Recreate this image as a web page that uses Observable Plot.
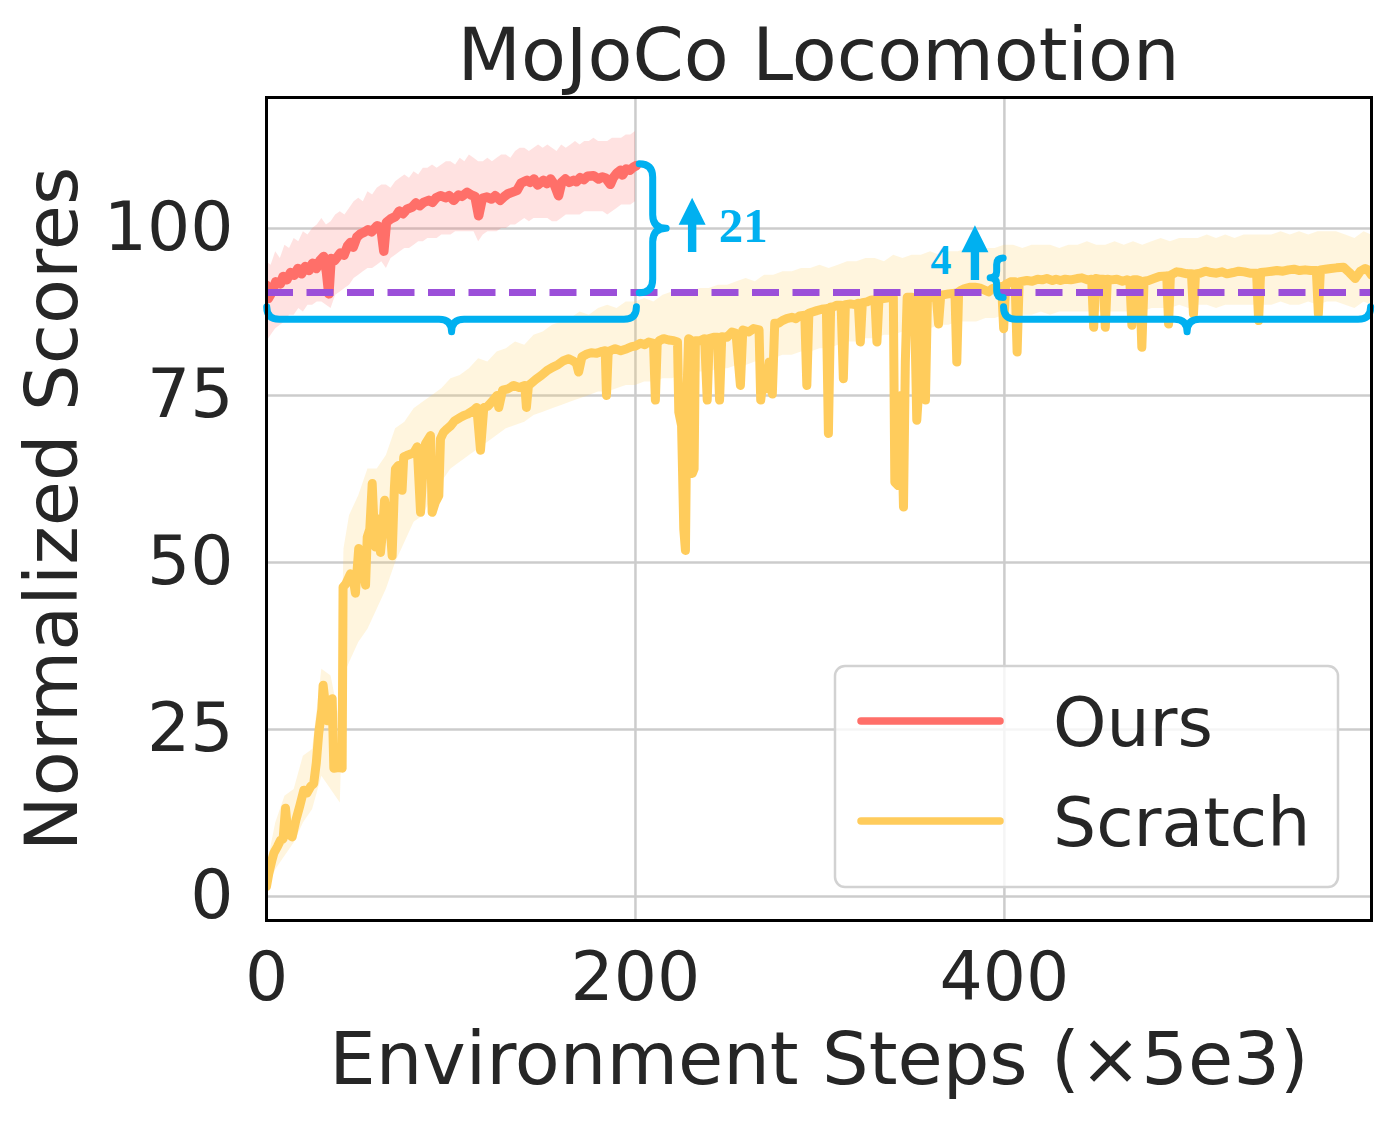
<!DOCTYPE html>
<html>
<head>
<meta charset="utf-8">
<script src="https://cdn.jsdelivr.net/npm/d3@7"></script>
<script src="https://cdn.jsdelivr.net/npm/@observablehq/plot@0.6"></script>
<style>
  html, body { margin: 0; padding: 0; background: #fff; }
  #title { position: relative; width: 1394px; height: 90px; font-family: "DejaVu Sans", sans-serif; color: #262626; }
  #title span { position: absolute; left: 266px; width: 1105px; top: 18px; text-align: center; font-size: 73.5px; line-height: 73.5px; white-space: nowrap; }
  #chart svg { display: block; }
</style>
</head>
<body>
<div id="title"><span>MoJoCo Locomotion</span></div>
<div id="chart"></div>
<script>
// ---------------- data ----------------
const seriesNames = ["Ours", "Scratch"];
const seriesColors = ["#FF6F69", "#FFCC5C"];
const xTicks = [0, 200, 400];
const yTicks = [0, 25, 50, 75, 100];
const baselineScore = 90.4;

// Ours: [step, mean score]
const oursCurve = [[0,91.5],[1,89.5],[3,90.5],[5,92],[7.5,91.7],[9,92.8],[11,92.3],[13,93.4],[15,93],[17,94],[19,93.2],[21,94.3],[23,93.7],[25,94.8],[27,94],[29,95.2],[31,95.8],[32.5,93.5],[33.8,90.2],[35,95.5],[37,95.2],[40,96.3],[42,96],[44,97.4],[45.5,97.9],[47,97.2],[49,98.7],[51,99.2],[52.7,99.4],[55,99.8],[57,99.5],[60,100.4],[62,100.1],[63.6,96.6],[65,100.9],[67.2,101.4],[70,101.8],[72,102.6],[74,102.2],[76.2,102.9],[79,103.2],[81,103.8],[83,103.4],[85.2,103.9],[88,104.2],[90,103.9],[92,104.6],[94.3,104.9],[97,104.6],[99,104.9],[101.5,104.2],[104,105],[106,104.8],[108.8,105.4],[111,105],[113,104.8],[115,101.9],[117,104.5],[119.5,104.7],[122,104.4],[124,104.9],[126.7,104.2],[129,104.8],[131,105.2],[133,105.4],[135.8,105.7],[138,106.8],[141.2,107.2],[143,106.9],[145,107.4],[147,106.5],[150.2,107.2],[152,106.7],[154,107.4],[156,106.6],[158.3,104.9],[160,106.9],[162,107.4],[164,106.9],[166.5,107.2],[168,107],[170,107.6],[172,107.3],[174,107.8],[177.3,107.9],[180,107.4],[182,107.7],[184,107.5],[186.4,106.6],[188,107.6],[190,108.3],[191.9,108.7],[193,108],[195,108.9],[197,108.7],[199,109.2],[200.5,109.4]];

// Ours band: [step, low, high]
const oursBand = [[0,83,95],[2.5,84,94.5],[5,85,96.5],[7.5,85.5,95.5],[10,86,97.5],[12.5,87,97],[15,87,98.5],[17.5,88,98],[20,87.5,99.5],[22.5,88.5,99],[25,88.5,100],[27.5,89,100.5],[30,89,101.5],[32.5,88.5,100.5],[35,88,101],[37.5,90,102],[40,90.5,102.5],[42.5,91,102],[45,91.5,103],[47.5,92.5,104],[50,93,104.5],[52.5,93.5,104],[55,94,105.5],[57.5,94,105],[60,94.5,106],[62.5,95,106.5],[65,94,106.5],[67.5,95.5,106],[70,96,107],[72.5,96.5,107.5],[75,97,108],[77.5,97,107.5],[80,97.5,108.5],[82.5,98,108],[85,98,109],[87.5,98.5,109],[90,98.5,109.5],[92.5,98.5,109],[95,99,109.5],[97.5,99,110],[100,99,110],[102.5,99.5,109.5],[105,99.5,110.5],[107.5,99.5,110],[110,99.5,111],[112.5,99.5,110.5],[115,98,110],[117.5,99,110],[120,99.5,110.5],[122.5,99.5,110],[125,99.5,110.5],[127.5,100,111],[130,100,111],[132.5,100.5,110.5],[135,100.5,111.5],[137.5,101,112],[140,101.5,112],[142.5,101,111.5],[145,101.5,112],[147.5,101.5,112.5],[150,101.5,112],[152.5,101.5,112.5],[155,101,112],[157.5,101,111.5],[160,101.5,112.5],[162.5,102,112],[165,102,112.5],[167.5,102,113],[170,102,112.5],[172.5,102.5,113],[175,102.5,113],[177.5,102.5,113.5],[180,102.5,113],[182.5,102.5,113],[185,102,113],[187.5,102.5,113.5],[190,103,113.5],[192.5,103.5,113.5],[195,103.5,114],[197.5,103.5,114],[200,104,114.5]];

// Scratch: [step, mean score]
const scratchCurve = [[0,1.5],[1.3,3.5],[3,5.5],[4,6.5],[6,7.5],[7.6,8.4],[9,8.6],[10.3,13.2],[11.5,9.5],[13.9,8.9],[16,11.5],[18,13.5],[20.2,15.9],[22,15.5],[24,16.5],[25.6,16.9],[27,20],[28.3,24.4],[30,28],[30.7,31.6],[32,28.5],[32.9,26.3],[34,27.5],[35.6,29.6],[36.5,19.2],[39,19.3],[41,19.2],[41.5,46.3],[43,46.8],[45.5,48.3],[47,47.5],[48.2,45.4],[50,52.1],[52,50.5],[53.7,46.6],[54.6,53.8],[56,55],[57.3,61.8],[58.2,56],[59.1,52.3],[60.5,56.5],[61.8,51.5],[63,55],[64,59.3],[65.5,56],[67,55.5],[68.1,51],[69.3,61],[69.9,64],[71.5,64.5],[73,63.5],[73.5,60.8],[74.4,65.8],[76,66],[78.9,66.3],[80,66.5],[81.7,67.3],[83.5,57.5],[85,65],[86.2,67.8],[88.9,69],[89.8,57.5],[91.5,59],[93.4,60],[94.3,68.5],[96,69.5],[97.9,70],[100,70.5],[102,71.2],[105.1,71.7],[107,72],[109,72.2],[112.4,72.8],[114,73.2],[116,66.8],[117.8,73.2],[120,73.4],[122,74],[125,75],[125.9,73.2],[128,75.8],[131,76],[134,76.5],[137,76.2],[140,76.5],[140.9,73.2],[142,76.5],[143,76.7],[146,77.4],[149,78],[152,78.7],[155,79.2],[158,79.6],[161,80.2],[163.8,80.5],[166,80.2],[168,79.8],[169.2,78.5],[171,80.8],[173.7,81.2],[176,81.4],[179,81.3],[182,81.6],[183.6,81.7],[184.3,75],[185.2,81.3],[186.4,81.7],[189,82],[192,81.7],[195.4,82],[198,82.3],[200,82.4],[202.7,82.8],[205,82.6],[207.2,83],[209.8,82.8],[210.8,74.3],[211.8,82.8],[213,83.2],[215.3,83.5],[218,83.3],[220.7,83.2],[222.8,83],[223.5,72.5],[225,70.5],[226.2,55],[227.1,51.8],[228,76],[228.8,83.5],[229.8,83.3],[230.8,63.3],[231.8,64],[232.5,83.2],[235.2,83.2],[237.5,83.5],[238.9,74.3],[240,83.5],[242.4,83.7],[244.5,83.7],[245.6,74.3],[246.8,83.8],[249.6,83.7],[252.3,84.5],[254.5,84.3],[256.9,76.5],[258.2,84.8],[261.5,84.5],[264,85],[267,84.8],[267.9,74.3],[269.5,78],[271,76],[272.5,80],[274.2,75.2],[275.5,85.8],[277.5,85.8],[279.6,86.2],[282,86.5],[284.8,86.7],[287,86.5],[289,86.9],[291.8,87],[292.9,76.5],[294,87.3],[296,87.5],[298.3,87.7],[301,87.9],[303.5,88],[304.6,69.3],[305.8,88.2],[307.5,88.3],[309.2,88.5],[311.5,88.5],[312.7,77.5],[313.8,88.6],[316.5,88.7],[319,88.6],[320.8,88.8],[321.9,83],[323,88.9],[325.5,89],[328,89.3],[329.8,89.3],[330.9,83],[332,89.4],[334.5,89.5],[337,89.6],[339.8,89.7],[340.6,62],[342.5,61.5],[344,75],[345.3,58.3],[346.3,80],[347.3,89.7],[349.5,89.7],[351.2,89.6],[352.5,71.3],[353.6,76],[354.5,89.7],[356.2,89.7],[357.2,74.3],[358.3,89.7],[360.7,89.7],[363,90],[364.3,85.7],[365.5,90],[367.5,90.1],[369.7,90.2],[373.2,90.3],[374.2,80],[375.2,90.5],[376.2,90.7],[378.5,91],[381.6,91.2],[384,91.2],[386.5,91.1],[389,90.8],[391.5,90.5],[393.5,91],[396,91.2],[398.5,91.3],[399.6,85],[400.7,91.6],[403.3,92],[405.8,92],[406.9,81.5],[408,92],[410,92.1],[412.2,92.2],[415,92.1],[418,92.4],[420.5,92.3],[423,92.5],[426,92.2],[428,92.4],[430.4,92.2],[433,92.4],[436,92.3],[439.4,92.5],[442,92.6],[445,92.3],[447.3,92.4],[448.4,85.2],[449.5,92.5],[451.5,92.4],[453.6,92.4],[454.7,85.2],[455.8,92.4],[458,92.3],[461,92.4],[464,92.1],[466.5,92.3],[468,92.2],[469.1,85.5],[470.2,92.3],[472,92.3],[473.3,92.2],[474.5,82.2],[475.7,92.1],[478.1,92.2],[481,92.5],[484,92.8],[488,92.9],[489,85.7],[490,93],[493.5,93.5],[496,93.4],[499,93.2],[501.4,93.2],[502.5,87.2],[503.6,93.2],[506,93.3],[509,93.6],[512,93.4],[515,93.3],[518,93.5],[520.6,93.2],[524,93.4],[527,93.6],[530,93.5],[533,93.3],[536.7,93.3],[537.8,86.2],[538.9,93.4],[542,93.5],[545,93.6],[547.7,93.7],[551,93.6],[554,93.8],[557,93.9],[560,93.7],[563,93.8],[566,93.7],[569.1,93.7],[570.2,87.2],[571.3,93.8],[574,93.9],[577,94],[580,94.1],[583.8,94.2],[587,93.4],[590.2,92.5],[593,93.6],[595.6,94],[597,93.8],[599,93]];

// Scratch band: [step, low, high]
const scratchBand = [[0,0.5,4],[5,4,11],[10,6,15],[15,8,16],[20,11,21],[25,13,22],[30,18,34],[35,16,33],[40,14,26],[42,33,52],[45,35,57],[50,38,60],[55,40,64],[60,43,64],[65,46,66],[70,50,70],[75,53,71],[80,56,73],[85,57,74],[90,60,75],[95,62,76],[100,64,77.5],[105,65,78],[110,66,79],[115,67,80.5],[120,68,80],[125,69,81.5],[130,70,82],[135,70.5,83],[140,71,82.5],[145,72,84],[150,72.5,84.5],[155,73,85.5],[160,73.5,86],[165,74,86.5],[170,74.5,87.5],[175,75,87],[180,75.5,88],[185,75.5,88.5],[190,76,88],[195,76.5,89],[200,76.5,89],[205,77,89.5],[210,77,89],[215,77.5,90],[220,77.5,90.5],[225,78,90],[230,78,90.5],[235,78.5,91],[240,78.5,91],[245,79,91.5],[250,79,91.5],[255,79.5,92],[260,79.5,92.5],[265,80,92],[270,80,93],[275,80.5,93],[280,81,93.5],[285,81,93.5],[290,81.5,94],[295,81.5,94],[300,82,94.5],[305,82,94],[310,82.5,94.5],[315,83,95],[320,83,95],[325,83.5,95.5],[330,83.5,95.5],[335,84,95],[340,84,96],[345,84.5,95.5],[350,84.5,96],[355,85,96],[360,85,96.5],[365,85.5,96],[370,85.5,96.5],[375,86,96.5],[380,86,97],[385,86,96.5],[390,86.5,97],[395,86.5,97],[400,87,97.5],[405,87,97.5],[410,87,97],[415,87,97.5],[420,87.5,97.5],[425,87,97.5],[430,87.5,97],[435,87.5,97.5],[440,87.5,97.5],[445,87.5,98],[450,87.5,97.5],[455,87.5,97.5],[460,87.5,98],[465,87.5,97.5],[470,87.5,98],[475,87.5,97.5],[480,88,98],[485,88,98.5],[490,88,98],[495,88.5,98.5],[500,88,98.5],[505,88.5,98.5],[510,88.5,99],[515,88,98.5],[520,88.5,99],[525,88.5,98.5],[530,88.5,99],[535,88.5,99],[540,88.5,99],[545,88.5,99],[550,89,99.5],[555,88.5,99],[560,88.5,99.5],[565,89,99],[570,88.5,99.5],[575,89,99.5],[580,89,99.5],[585,88.5,99],[590,88,98.5],[595,89,99.5],[599,88.5,99]];

// Annotations (data units)
const braceStart = [[0.4, 88.2], [202.3, 90.3], [399.6, 95.5], [399.8, 88.2]];
const braceEnd   = [[200.8, 88.2], [202.3, 109.6], [399.6, 89.6], [598.8, 88.2]];
const braceDepth = [25, 27, 13, 25];
const arrowStep  = [231, 384.3];
const arrowFrom  = [96.4, 92.2];
const arrowTo    = [104.5, 100.4];
const gainLabels = ["21", "4"];
const gainStep   = [245.2, 359.9];
const gainScore  = [97.95, 93.2];
const gainSize   = [49, 42];

// ---------------- styling ----------------
const BLUE = "#00B0F0";
const PURPLE = "#9B4FD9";
const INK = "#262626";

const toXY = (a) => a.map(([x, y]) => ({x, y}));
const toBand = (a) => a.map(([x, lo, hi]) => ({x, lo, hi}));

function bracePath(ax, ay, bx, by, d) {
  // bulge to the right-hand side of direction a->b (screen coords)
  const len = Math.hypot(bx - ax, by - ay);
  const tx = (bx - ax) / len, ty = (by - ay) / len;
  const nx = -ty, ny = tx;
  const r = d / 2, m = len / 2;
  const P = (u, v) => `${ax + u * tx + v * nx},${ay + u * ty + v * ny}`;
  return `M${P(0,0)} Q${P(0,r)} ${P(r,r)} L${P(m-r,r)} Q${P(m,r)} ${P(m,d)} ` +
         `Q${P(m,r)} ${P(m+r,r)} L${P(len-r,r)} Q${P(len,r)} ${P(len,0)}`;
}

function braces(index, scales) {
  const g = d3.create("svg:g")
    .attr("fill", "none").attr("stroke", BLUE).attr("stroke-width", 7)
    .attr("stroke-linecap", "round").attr("stroke-linejoin", "round");
  braceStart.forEach((s, i) => {
    const e = braceEnd[i];
    g.append("path").attr("d", bracePath(scales.x(s[0]), scales.y(s[1]), scales.x(e[0]), scales.y(e[1]), braceDepth[i]));
  });
  return g.node();
}

function arrows(index, scales) {
  const g = d3.create("svg:g").attr("fill", BLUE);
  arrowStep.forEach((s, i) => {
    const x = scales.x(s), y0 = scales.y(arrowFrom[i]), y1 = scales.y(arrowTo[i]);
    const hl = 27, hw = 13.5, sw = 4.2;
    g.append("path").attr("d",
      `M${x-sw},${y0} L${x-sw},${y1+hl} L${x-hw},${y1+hl} L${x},${y1} L${x+hw},${y1+hl} L${x+sw},${y1+hl} L${x+sw},${y0} Z`);
  });
  return g.node();
}

function legend(index, scales, values, dims) {
  const right = dims.width - dims.marginRight;
  const bottom = dims.height - dims.marginBottom;
  const w = 503, h = 221;
  const bx = right - 33 - w, by = bottom - 33 - h;
  const g = d3.create("svg:g");
  g.append("rect").attr("x", bx).attr("y", by).attr("width", w).attr("height", h)
    .attr("rx", 10).attr("fill", "white").attr("fill-opacity", 0.8)
    .attr("stroke", "#d2d2d2").attr("stroke-width", 2.5);
  seriesNames.forEach((name, i) => {
    const cy = by + 55 + 100 * i;
    g.append("line").attr("x1", bx + 26).attr("x2", bx + 165).attr("y1", cy).attr("y2", cy)
      .attr("stroke", seriesColors[i]).attr("stroke-width", 7.5).attr("stroke-linecap", "round");
    g.append("text").attr("x", bx + 218).attr("y", by + 80 + 100 * i)
      .attr("text-anchor", "start")
      .attr("fill", INK).attr("font-size", 68).attr("font-family", "DejaVu Sans").text(name);
  });
  return g.node();
}

const chart = Plot.plot({
  width: 1394,
  height: 1035,
  marginTop: 7,
  marginBottom: 205,
  marginLeft: 266,
  marginRight: 23,
  style: { fontFamily: "DejaVu Sans", fontSize: "68px", color: INK, background: "white", overflow: "visible" },
  x: { domain: [0, 599] },
  y: { domain: [-3.6, 119.6] },
  marks: [
    Plot.gridX(xTicks, { stroke: "#cccccc", strokeOpacity: 1, strokeWidth: 2.5 }),
    Plot.gridY(yTicks, { stroke: "#cccccc", strokeOpacity: 1, strokeWidth: 2.5 }),
    Plot.axisX(xTicks, { tickSize: 0, tickPadding: 31, fontSize: 68, label: null }),
    Plot.axisY(yTicks, { tickSize: 0, tickPadding: 33, fontSize: 68, label: null }),
    Plot.areaY(toBand(scratchBand), { x: "x", y1: "lo", y2: "hi", fill: seriesColors[1], fillOpacity: 0.2, clip: true }),
    Plot.areaY(toBand(oursBand), { x: "x", y1: "lo", y2: "hi", fill: seriesColors[0], fillOpacity: 0.2, clip: true }),
    Plot.line(toXY(scratchCurve), { x: "x", y: "y", stroke: seriesColors[1], strokeWidth: 9, strokeLinejoin: "round", strokeLinecap: "round", clip: true }),
    Plot.line(toXY(oursCurve), { x: "x", y: "y", stroke: seriesColors[0], strokeWidth: 9.5, strokeLinejoin: "round", strokeLinecap: "round", clip: true }),
    Plot.ruleY([baselineScore], { stroke: PURPLE, strokeWidth: 7, strokeDasharray: "27,13.5" }),
    braces,
    arrows,
    Plot.text(gainLabels, { x: (d, i) => gainStep[i], y: (d, i) => gainScore[i], text: d => d,
      fontSize: (d, i) => gainSize[i], fontFamily: "Liberation Serif", fontWeight: "bold",
      fill: BLUE, textAnchor: "start", lineAnchor: "bottom" }),
    legend,
    Plot.text(["Environment Steps (×5e3)"], { text: d => d, frameAnchor: "bottom", lineAnchor: "bottom", dy: 163, fontSize: 73.5, fill: INK }),
    Plot.text(["Normalized Scores"], { text: d => d, frameAnchor: "left", rotate: -90, dx: -213.5, lineAnchor: "middle", textAnchor: "middle", fontSize: 73.5, fill: INK }),
    Plot.frame({ stroke: "black", strokeWidth: 3 })
  ]
});
document.getElementById("chart").appendChild(chart);
</script>
</body>
</html>
